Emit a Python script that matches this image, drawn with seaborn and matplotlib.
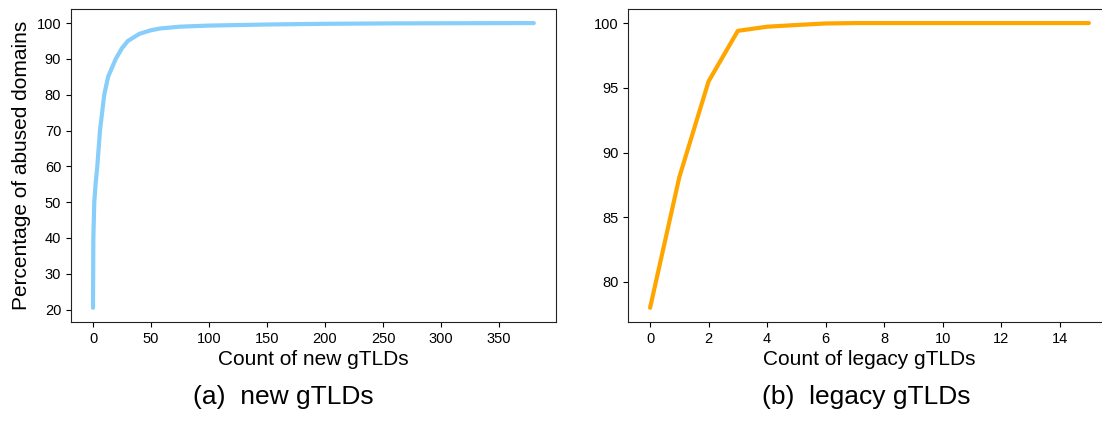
import matplotlib
matplotlib.use("Agg")
import matplotlib.pyplot as plt
import seaborn as sns
import pandas as pd

# new gTLDs: cumulative share of abused domains vs count
new_count = [0, 0.3, 1.1, 2.2, 3.7, 6, 9.7, 13, 19.6, 25, 30, 40, 50, 58, 75,
             100, 150, 200, 250, 300, 380]
new_pct = [20.5, 40, 50, 55, 60, 70, 80, 85, 90, 93, 95, 97, 98, 98.5, 99.0,
           99.3, 99.6, 99.8, 99.9, 99.95, 100]

# legacy gTLDs
legacy_count = list(range(16))
legacy_pct = [78.0, 88.1, 95.5, 99.4, 99.72, 99.85, 99.97, 100, 100, 100,
              100, 100, 100, 100, 100, 100]

sns.set_style("ticks")
plt.rcParams["font.family"] = ["Liberation Sans", "DejaVu Sans"]
plt.rcParams.update({
    "text.color": "black",
    "axes.labelcolor": "black",
    "xtick.color": "black",
    "ytick.color": "black",
    "axes.edgecolor": "#222222",
})

fig = plt.figure(figsize=(11.02, 4.21), dpi=100)
ax1 = fig.add_axes([0.0644, 0.235, 0.440, 0.744])
ax2 = fig.add_axes([0.570, 0.235, 0.438, 0.744])

df_new = pd.DataFrame({"count": new_count, "pct": new_pct})
df_leg = pd.DataFrame({"count": legacy_count, "pct": legacy_pct})

sns.lineplot(data=df_new, x="count", y="pct", color="#87CEFA", linewidth=3, ax=ax1)
sns.lineplot(data=df_leg, x="count", y="pct", color="#FFA500", linewidth=3, ax=ax2)

ax1.set_xticks(range(0, 351, 50))
ax1.set_yticks(range(20, 101, 10))
ax2.set_xticks(range(0, 15, 2))
ax2.set_yticks(range(80, 101, 5))

ax1.set_xlabel("Count of new gTLDs", fontsize=15, labelpad=3)
ax1.set_ylabel("Percentage of abused domains", fontsize=15)
ax2.set_xlabel("Count of legacy gTLDs", fontsize=15, labelpad=3)
ax2.set_ylabel("")

for ax in (ax1, ax2):
    ax.tick_params(labelsize=10.5, color="black")
    for s in ax.spines.values():
        s.set_visible(True)

fig.text(0.257, 0.057, "(a)  new gTLDs", fontsize=19, ha="center", va="center")
fig.text(0.786, 0.057, "(b)  legacy gTLDs", fontsize=19, ha="center", va="center")

fig.savefig("out.png", dpi=100)
